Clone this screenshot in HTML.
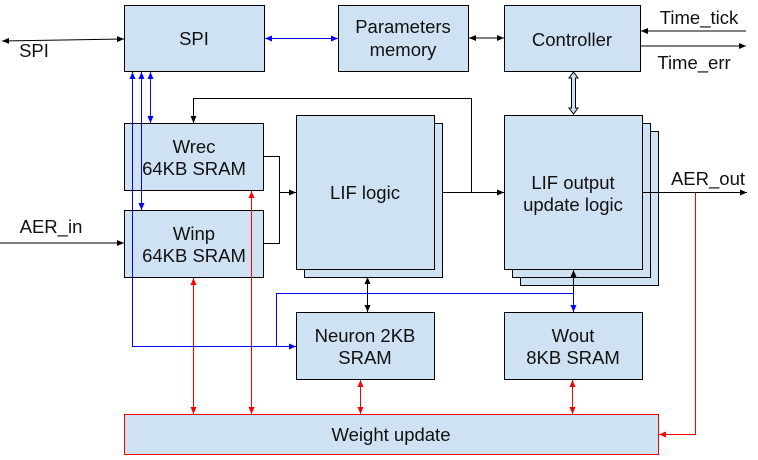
<!DOCTYPE html>
<html><head><meta charset="utf-8"><style>
html,body{margin:0;padding:0;background:#fff;}
svg{display:block;font-family:"Liberation Sans",Arial,sans-serif;}
</style></head><body>
<svg width="758" height="460" viewBox="0 0 758 460" xmlns="http://www.w3.org/2000/svg">
<defs>
<marker id="ak" markerWidth="8" markerHeight="8" refX="7" refY="4" orient="auto-start-reverse" markerUnits="userSpaceOnUse"><path d="M0,1 L7,4 L0,7 z" fill="#000"/></marker>
<marker id="ab" markerWidth="8" markerHeight="8" refX="7" refY="4" orient="auto-start-reverse" markerUnits="userSpaceOnUse"><path d="M0,1 L7,4 L0,7 z" fill="#00f"/></marker>
<marker id="ar" markerWidth="8" markerHeight="8" refX="7" refY="4" orient="auto-start-reverse" markerUnits="userSpaceOnUse"><path d="M0,1 L7,4 L0,7 z" fill="#f00"/></marker>
</defs>
<g fill="#cfe2f3" stroke="#000" stroke-width="1">
<rect x="124.5" y="5.5" width="140" height="66"/>
<rect x="338.5" y="5.5" width="130" height="66"/>
<rect x="504.5" y="5.5" width="136" height="66"/>
<rect x="124.5" y="123.5" width="139" height="67"/>
<rect x="124.5" y="210.5" width="139" height="67"/>
<rect x="304.5" y="123.5" width="138" height="154"/>
<rect x="296.5" y="115.5" width="138" height="154"/>
<rect x="520.5" y="131.5" width="138" height="154"/>
<rect x="512.5" y="123.5" width="138" height="154"/>
<rect x="504.5" y="115.5" width="138" height="154"/>
<rect x="296.5" y="312.5" width="138" height="67"/>
<rect x="504.5" y="312.5" width="138" height="67"/>
<rect x="124.5" y="414.5" width="534" height="40" stroke="#f00"/>
</g>
<g font-size="18.5" fill="#111" text-anchor="middle">
<text x="194" y="45">SPI</text>
<text x="403" y="33">Parameters</text><text x="403" y="56">memory</text>
<text x="572" y="46">Controller</text>
<text x="194" y="153">Wrec</text><text x="194" y="175">64KB SRAM</text>
<text x="194" y="240">Winp</text><text x="194" y="262">64KB SRAM</text>
<text x="365" y="199">LIF logic</text>
<text x="573" y="189">LIF output</text><text x="573" y="211">update logic</text>
<text x="365" y="342">Neuron 2KB</text><text x="365" y="364">SRAM</text>
<text x="573" y="342">Wout</text><text x="573" y="364">8KB SRAM</text>
<text x="391" y="441">Weight update</text>
<text x="34" y="57" >SPI</text>
<text x="51" y="233">AER_in</text>
<text x="708" y="185">AER_out</text>
<text x="699" y="24">Time_tick</text>
<text x="694" y="69">Time_err</text>
</g>
<g fill="none" stroke="#000" stroke-width="1">
<line x1="2" y1="41" x2="124" y2="39" marker-start="url(#ak)" marker-end="url(#ak)"/>
<line x1="469" y1="38" x2="504" y2="38" marker-start="url(#ak)" marker-end="url(#ak)"/>
<line x1="746" y1="31" x2="641" y2="31" marker-end="url(#ak)"/>
<line x1="641" y1="46" x2="746" y2="46" marker-end="url(#ak)"/>
<line x1="0" y1="243" x2="124" y2="243" marker-end="url(#ak)"/>
<polyline points="471.5,192 471.5,98.5 193.5,98.5 193.5,123" marker-end="url(#ak)"/>
<polyline points="263,156.5 279.5,156.5 279.5,243.5 263,243.5"/>
<line x1="279" y1="192.5" x2="296" y2="192.5" marker-end="url(#ak)"/>
<line x1="442" y1="192.5" x2="504" y2="192.5" marker-end="url(#ak)"/>
<line x1="642" y1="192.5" x2="747" y2="192.5" marker-end="url(#ak)"/>
<line x1="367.5" y1="277" x2="367.5" y2="312" marker-start="url(#ak)" marker-end="url(#ak)"/>
<line x1="573.5" y1="293" x2="573.5" y2="270" marker-end="url(#ak)"/>
</g>
<g fill="none" stroke="#00f" stroke-width="1">
<line x1="265" y1="38.5" x2="338" y2="38.5" marker-start="url(#ab)" marker-end="url(#ab)"/>
<polyline points="132.5,72 132.5,346.5 296,346.5" marker-start="url(#ab)" marker-end="url(#ab)"/>
<line x1="141.5" y1="72" x2="141.5" y2="210" marker-start="url(#ab)" marker-end="url(#ab)"/>
<line x1="150.5" y1="72" x2="150.5" y2="123" marker-start="url(#ab)" marker-end="url(#ab)"/>
<polyline points="276.5,346.5 276.5,293.5 573.5,293.5 573.5,312" marker-end="url(#ab)"/>
</g>
<g fill="none" stroke="#f00" stroke-width="1">
<line x1="193.5" y1="414" x2="193.5" y2="278" marker-start="url(#ar)" marker-end="url(#ar)"/>
<line x1="251.5" y1="414" x2="251.5" y2="191" marker-start="url(#ar)" marker-end="url(#ar)"/>
<line x1="360.5" y1="414" x2="360.5" y2="380" marker-start="url(#ar)" marker-end="url(#ar)"/>
<line x1="572.5" y1="414" x2="572.5" y2="380" marker-start="url(#ar)" marker-end="url(#ar)"/>
<polyline points="695.5,192.5 695.5,434.5 659,434.5" marker-end="url(#ar)"/>
</g>
<path d="M573.5,72 L578,78 L575.5,78 L575.5,108 L578,108 L573.5,114 L569,108 L571.5,108 L571.5,78 L569,78 Z" fill="#cfe2f3" stroke="#000" stroke-width="1"/>
</svg>
</body></html>
